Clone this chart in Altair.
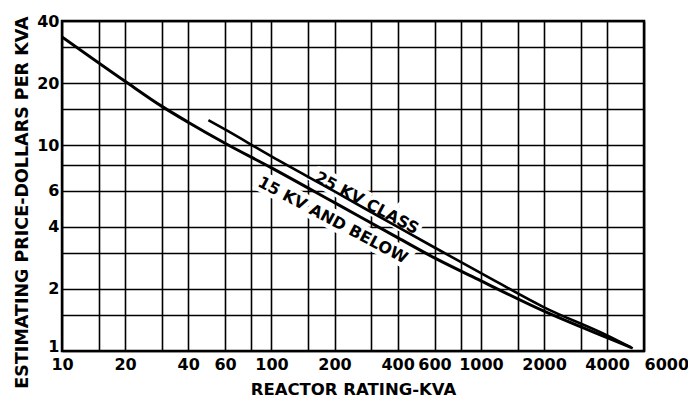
import altair as alt
import pandas as pd

# --- data -------------------------------------------------------------------
kva_15 = [10, 20, 30, 40, 60, 100, 200, 400, 600, 1000, 2000, 4000, 5200]
price_15 = [33.5, 20.4, 15.4, 12.9, 10.2, 7.75, 5.25, 3.55, 2.83, 2.19, 1.56, 1.16, 1.04]

kva_25 = [50, 60, 100, 200, 400, 600, 1000, 2000, 4000, 5300]
price_25 = [13.2, 11.9, 8.8, 5.95, 4.0, 3.18, 2.39, 1.63, 1.19, 1.03]

x_grid = [10, 15, 20, 30, 40, 60, 80, 100, 150, 200, 300, 400, 600, 800,
          1000, 1500, 2000, 3000, 4000, 6000]
x_labels = [10, 20, 40, 60, 100, 200, 400, 600, 1000, 2000, 4000, 6000]
y_grid = [1, 1.5, 2, 3, 4, 6, 8, 10, 15, 20, 30, 40]
y_labels = [1, 2, 4, 6, 10, 20, 40]

ann_text = ["25 KV CLASS", "15 KV AND BELOW"]
ann_kva = [285, 196]
ann_price = [5.23, 4.31]

# --- tables ------------------------------------------------------------------
lines = pd.concat([
    pd.DataFrame({"kva": kva_15, "price": price_15, "series": "15 KV AND BELOW"}),
    pd.DataFrame({"kva": kva_25, "price": price_25, "series": "25 KV CLASS"}),
])
ann = pd.DataFrame({"kva": ann_kva, "price": ann_price, "text": ann_text})

FONT = "DejaVu Sans"

x_expr = ("indexof(" + str(x_labels) + ", datum.value) >= 0 ? "
          "format(datum.value, 'd') : ''")
y_expr = ("indexof(" + str(y_labels) + ", datum.value) >= 0 ? "
          "format(datum.value, 'd') : ''")

x_enc = alt.X(
    "kva:Q",
    scale=alt.Scale(type="log", domain=[10, 6000], nice=False),
    axis=alt.Axis(
        values=x_grid, labelExpr=x_expr, title="REACTOR RATING-KVA",
        labelOverlap=False, labelFlush=False, labelPadding=5, titlePadding=9,
        titleFontSize=16.5,
        labelAlign={"expr": "datum.value == 6000 ? 'left' : 'center'"},
    ),
)
y_enc = alt.Y(
    "price:Q",
    scale=alt.Scale(type="log", domain=[1, 40], nice=False),
    axis=alt.Axis(
        values=y_grid, labelExpr=y_expr,
        title="ESTIMATING PRICE-DOLLARS PER KVA",
        labelOverlap=False, labelFlush=False, labelPadding=3, titlePadding=5,
        titleFontSize=17.5, titleY=181,
        labelBaseline={"expr": "datum.value == 1 ? 'alphabetic' : 'middle'"},
    ),
)

halo = alt.Chart(ann).mark_text(
    angle=28, font=FONT, fontSize=16, fontWeight="bold",
    fill="white", stroke="white", strokeWidth=9, align="center", baseline="middle",
).encode(x=x_enc, y=y_enc, text="text:N")

line_15 = alt.Chart(lines).transform_filter(
    alt.datum.series == "15 KV AND BELOW"
).mark_line(color="black", strokeWidth=3, interpolate="monotone", clip=True).encode(
    x=x_enc, y=y_enc
)
line_25 = alt.Chart(lines).transform_filter(
    alt.datum.series == "25 KV CLASS"
).mark_line(color="black", strokeWidth=2.6, interpolate="monotone", clip=True).encode(
    x=x_enc, y=y_enc
)

labels = alt.Chart(ann).mark_text(
    angle=28, font=FONT, fontSize=16, fontWeight="bold",
    color="black", align="center", baseline="middle",
).encode(x=x_enc, y=y_enc, text="text:N")

chart = alt.layer(halo, line_15, line_25, labels).properties(
    width=582, height=330,
    autosize=alt.AutoSizeParams(type="none"),
    padding={"left": 54, "top": 13, "right": 44, "bottom": 46},
    background="white",
).configure_view(
    stroke="black", strokeWidth=2.5,
).configure_axis(
    grid=True, gridColor="black", gridWidth=1.6, gridOpacity=1,
    ticks=False, domain=False,
    labelFont=FONT, labelFontSize=16, labelFontWeight="bold", labelColor="black",
    titleFont=FONT, titleFontWeight="bold", titleColor="black",
)

chart.save("out.html", embed_options={"renderer": "svg", "actions": False})
